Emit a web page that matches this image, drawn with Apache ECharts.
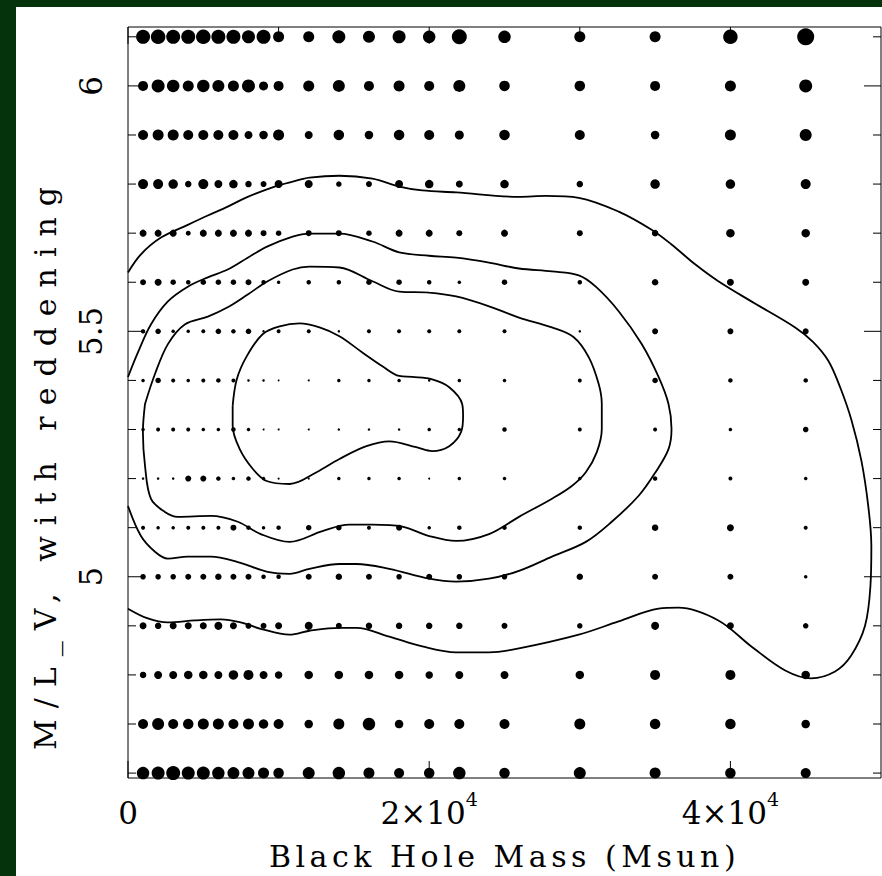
<!DOCTYPE html>
<html><head><meta charset="utf-8">
<script src="https://cdn.jsdelivr.net/npm/echarts@6/dist/echarts.min.js"></script>
<style>
html,body{margin:0;padding:0;background:#05330c;width:882px;height:876px;overflow:hidden}
#chart{position:absolute;left:16px;top:7px;width:866px;height:869px;background:#fff}
</style></head><body><div id="chart"></div>
<script>
// ---- data ----
const xValues = [1000,2000,3000,4000,5000,6000,7000,8000,9000,10000,12000,14000,16000,18000,20000,22000,25000,30000,35000,40000,45000];
const yValues = [6.1,6.0,5.9,5.8,5.7,5.6,5.5,5.4,5.3,5.2,5.1,5.0,4.9,4.8,4.7,4.6];
// relative weight of each grid point (row = yValues, column = xValues)
const w61 = [14,14.5,14,14,14.5,14,14,13,14,11, 11,13,12,13,12.5,15, 12.5,11,11,14.5,17];
const w60 = [10,13,12.5,11,12.5,12,11,13,9,10, 11,12,10,11,10,12, 10.5,10.5,10,11,13];
const w59 = [10,11,11,10,10,10,10,8,8.5,11, 8,10.5,8.5,10.5,10,9, 10.5,10,8.5,11,12];
const w58 = [10,10,9.5,6.5,10,8,8.5,6.5,6,8, 8,5.5,6,8,8.5,7, 8.5,6.5,9.5,9.5,10];
const w57 = [7,7,7,5,7,7,7,7,6,5.5, 6,6,5.5,7,7,6, 7,6,6.5,8.5,8.5];
const w56 = [6,7,5.5,4.5,5.5,5.5,5.5,6,4.5,3.5, 4.5,4.5,5.5,5.5,4.5,3.5, 5.5,4.5,6.5,7,7];
const w55 = [4.5,5.5,3.5,3.5,4,5.5,4.5,5.5,2.5,4, 4,2.5,4,4,4,4, 4,2.5,6,6,6];
const w54 = [3.5,5.5,4,3.5,4,4.5,4,2.5,2.5,1.8, 2,3.5,3.5,3.5,2.5,3.5, 3.5,4,5.5,4.5,4.5];
const w53 = [3.5,4,4,4,3.5,3.5,4.5,3.5,2,2, 2,2.5,2.5,2.5,3.5,3.5, 4.5,4,4,3.5,5.5];
const w52 = [2.5,2.5,2.5,6,6,4.5,3.5,4.5,3.5,2, 2,3.5,3.5,3.5,2,3.5, 3.5,3.5,4.5,4,3.5];
const w51 = [4,3.5,3.5,4,4,4,6,4.5,3.5,4.5, 5.5,5.5,4,6,3.5,4.5, 4.5,4.5,6.5,7,4];
const w50 = [5.5,5.5,5.5,6,6,6.5,6,6,4.5,4.5, 6,6.5,6,5.5,6,5.5, 5.5,6.5,6,6,3.5];
const w49 = [7,6.5,7,7,7,8,7,6,6,7, 8,6,6.5,6.5,6.5,6.5, 6,5.5,8,7,5.5];
const w48 = [6.5,8,8,8.5,8.5,8,9.5,10,8,7.5, 8.5,8.5,8.5,8.5,7.5,8, 8,8.5,10,10,8.5];
const w47 = [10,12,10,10.5,11,11,10,11,9.5,10, 8.5,11,12.5,8.5,10,10, 10,11,10.5,10.5,8.5];
const w46 = [12.5,13,14,13,13,12.5,12,12,11,10.5, 12,12.5,11,10,10.5,12.5, 10.5,12,11,10.5,10];
const weightRows = [w61,w60,w59,w58,w57,w56,w55,w54,w53,w52,w51,w50,w49,w48,w47,w46];

// contour lines [mass, M/L]
const contour1 = [[0,5.62],[860,5.657],[2190,5.691],[3970,5.717],[5300,5.736],[6620,5.754],[7950,5.774],[9740,5.795],[10930,5.805],[12050,5.813],[14040,5.817],[16230,5.811],[18010,5.795],[19540,5.787],[21790,5.783],[25960,5.774],[27750,5.776],[29930,5.772],[32580,5.744],[34770,5.707],[36090,5.677],[37680,5.636],[39200,5.602],[41390,5.561],[44300,5.508],[45500,5.478],[46500,5.44],[47300,5.385],[48050,5.318],[48700,5.236],[49150,5.145],[49360,5.063],[49300,4.982],[48940,4.9],[48010,4.839],[46950,4.807],[45360,4.793],[43640,4.809],[41390,4.858],[39200,4.911],[36560,4.937],[35230,4.935],[32580,4.909],[29930,4.882],[25960,4.854],[23970,4.846],[21790,4.846],[19540,4.858],[17350,4.878],[15170,4.896],[14040,4.896],[12050,4.89],[10730,4.882],[8810,4.894],[7480,4.907],[6160,4.913],[4440,4.911],[2650,4.907],[1320,4.915],[0,4.935]];
const contour2 = [[0,5.407],[660,5.457],[1520,5.514],[2650,5.561],[3970,5.591],[5300,5.61],[6620,5.626],[7950,5.65],[9270,5.673],[10930,5.693],[12050,5.699],[14040,5.699],[16230,5.683],[18010,5.661],[20000,5.654],[21790,5.65],[23970,5.64],[25960,5.628],[28150,5.622],[29930,5.614],[31060,5.591],[32580,5.541],[34110,5.474],[35230,5.407],[35890,5.352],[36090,5.301],[35890,5.26],[35030,5.213],[33910,5.165],[32120,5.112],[30400,5.071],[28150,5.041],[25960,5.012],[23970,4.996],[21790,4.99],[20000,4.996],[17350,5.016],[15170,5.026],[14040,5.026],[12050,5.016],[10730,5.006],[9270,5.01],[7290,5.03],[5500,5.041],[3970,5.041],[2650,5.037],[1790,5.051],[860,5.083],[0,5.144]];
const contour3 = [[1130,5.352],[1790,5.413],[2650,5.474],[3770,5.514],[5300,5.53],[6620,5.549],[7950,5.575],[9270,5.602],[10930,5.626],[12050,5.632],[14040,5.63],[16230,5.602],[18010,5.581],[20000,5.579],[21790,5.571],[23970,5.551],[25960,5.528],[28150,5.508],[29600,5.488],[30600,5.447],[31260,5.392],[31460,5.352],[31460,5.301],[31130,5.254],[30400,5.213],[29470,5.185],[28150,5.159],[25960,5.122],[23970,5.087],[21790,5.073],[20000,5.083],[18210,5.102],[16230,5.106],[14700,5.106],[12910,5.093],[10730,5.071],[8810,5.087],[7290,5.112],[5500,5.124],[3310,5.122],[2450,5.132],[1520,5.159],[1130,5.226],[990,5.295],[1130,5.352]];
const contour4 = [[6950,5.348],[7220,5.402],[7880,5.449],[8940,5.494],[10070,5.51],[11390,5.516],[12720,5.508],[14040,5.49],[15560,5.457],[16890,5.429],[18010,5.409],[18870,5.407],[20200,5.402],[21330,5.386],[22190,5.352],[22250,5.327],[22120,5.295],[21330,5.266],[20200,5.256],[19140,5.264],[17350,5.276],[15830,5.266],[14040,5.24],[12520,5.213],[10730,5.189],[9210,5.195],[8280,5.22],[7420,5.26],[6950,5.307],[6950,5.348]];

// axes / ticks / labels
const xMin = 0, xMax = 50000;
const yMin = 4.59, yMax = 6.12;
const xMajorTicks = [0, 20000, 40000];
const xMinorTicks = [10000, 30000];
const xTickMain = ['0', '2×10', '4×10'];
const xTickSup = ['', '4', '4'];
const yMajorTicks = [5, 5.5, 6];
const yTickLabels = ['5', '5.5', '6'];
const yMinorTicks = [4.6,4.7,4.8,4.9,5.1,5.2,5.3,5.4,5.6,5.7,5.8,5.9,6.1];
const xTitle = 'Black Hole Mass (Msun)';
const yTitle = 'M/L_V, with reddening';

// ---- chart ----
const FONT = 'DejaVu Serif';
const MAJOR_LEN = 17, MINOR_LEN = 8;
const dots = [];
yValues.forEach((y, r) => xValues.forEach((x, c) => dots.push([x, y, weightRows[r][c]])));

// tick marks on all four sides of the frame, placed with the axes' scales
const tickItems = [];
yMajorTicks.forEach(v => tickItems.push([v, MAJOR_LEN, 0]));
yMinorTicks.forEach(v => tickItems.push([v, MINOR_LEN, 0]));
xMajorTicks.forEach(v => tickItems.push([v, MAJOR_LEN, 1]));
xMinorTicks.forEach(v => tickItems.push([v, MINOR_LEN, 1]));

function renderTick(params, api) {
  const v = api.value(0), len = api.value(1), isX = api.value(2) === 1;
  const style = {stroke:'#000', lineWidth:1};
  if (!isX) {
    const a = api.coord([xMin, v]), b = api.coord([xMax, v]);
    return {type:'group', children:[
      {type:'line', shape:{x1:a[0], y1:a[1], x2:a[0] + len, y2:a[1]}, style:style},
      {type:'line', shape:{x1:b[0], y1:b[1], x2:b[0] - len, y2:b[1]}, style:style}
    ]};
  }
  const a = api.coord([v, yMin]), b = api.coord([v, yMax]);
  return {type:'group', children:[
    {type:'line', shape:{x1:a[0], y1:a[1], x2:a[0], y2:a[1] - len}, style:style},
    {type:'line', shape:{x1:b[0], y1:b[1], x2:b[0], y2:b[1] + len}, style:style}
  ]};
}

const chart = echarts.init(document.getElementById('chart'), null, {renderer:'svg'});
chart.setOption({
  animation:false,
  backgroundColor:'#fff',
  grid:{show:true, left:112, top:20, right:1, bottom:97, borderColor:'#000', borderWidth:1, backgroundColor:'transparent'},
  xAxis:{
    type:'value', min:xMin, max:xMax, position:'bottom',
    axisLine:{show:false}, splitLine:{show:false}, axisTick:{show:false},
    axisLabel:{
      show:true, customValues:xMajorTicks, margin:11,
      formatter: function(v){
        const i = xMajorTicks.indexOf(v);
        return '{n|' + xTickMain[i] + '}' + (xTickSup[i] ? '{s|' + xTickSup[i] + '}' : '');
      },
      rich:{
        n:{fontFamily:FONT, fontSize:31, lineHeight:48, color:'#000'},
        s:{fontFamily:FONT, fontSize:19, lineHeight:20, verticalAlign:'top', color:'#000'}
      }
    },
    name:xTitle, nameLocation:'middle', nameGap:63,
    nameTextStyle:{fontFamily:FONT, fontSize:30, color:'#000'}
  },
  yAxis:{
    type:'value', min:yMin, max:yMax, position:'left',
    axisLine:{show:false}, splitLine:{show:false}, axisTick:{show:false},
    axisLabel:{
      show:true, customValues:yMajorTicks, rotate:90, margin:22,
      fontFamily:FONT, fontSize:31, color:'#000',
      formatter: function(v){
        for (let i = 0; i < yMajorTicks.length; i++) if (Math.abs(yMajorTicks[i]-v) < 1e-9) return yTickLabels[i];
        return '';
      }
    }
  },
  graphic:[{
    type:'text', x:29, y:456, rotation:Math.PI/2,
    style:{text:yTitle, font:'30px "DejaVu Serif"', fill:'#000', align:'center', verticalAlign:'middle', textAlign:'center', textVerticalAlign:'middle'}
  }],
  series:[
    {type:'custom', renderItem:renderTick, data:tickItems, silent:true, clip:false,
     encode:{x:-1, y:-1}},
    {type:'scatter', data:dots, symbol:'circle',
     symbolSize:function(v){ return v[2]; }, itemStyle:{color:'#000', opacity:1}, silent:true},
    ...[contour1, contour2, contour3, contour4].map(c => ({
      type:'line', data:c, smooth:0.35, showSymbol:false, symbol:'none',
      lineStyle:{color:'#000', width:1.8}, silent:true
    }))
  ]
});

// wide letter spacing of the axis titles, as in the original plot
function spaceTitles(){
  document.querySelectorAll('#chart svg text').forEach(t => {
    if (t.textContent === xTitle) t.setAttribute('letter-spacing', '4.5px');
    else if (t.textContent === yTitle) t.setAttribute('letter-spacing', '11px');
  });
}
spaceTitles();
chart.on('finished', spaceTitles);
</script></body></html>
